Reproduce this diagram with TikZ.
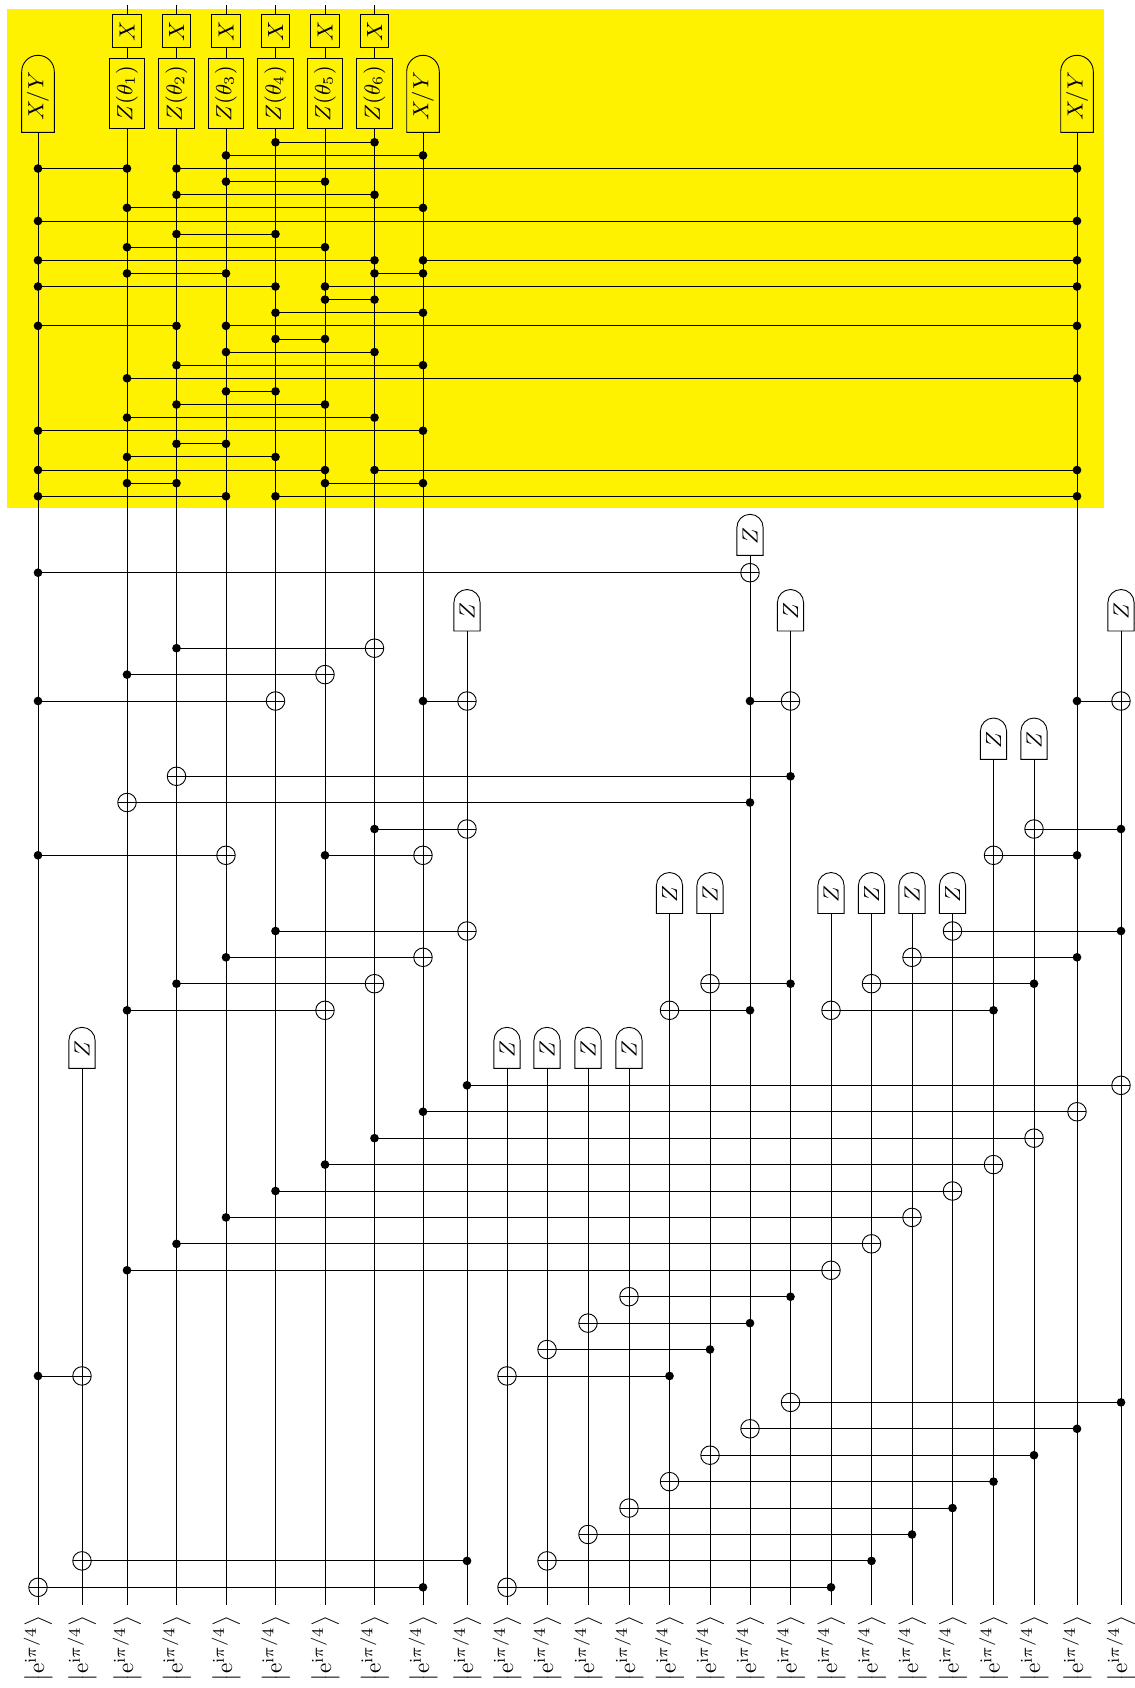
\documentclass[tikz,border=0pt]{standalone}
\usepackage{amsmath}
\definecolor{yel}{HTML}{FFF200}
\newcount\gid
\tikzset{
  x=0.41pt,y=-0.41pt,
  wire/.style={line width=0.37pt,black},
  ctrlnode/.style={circle,fill=black,inner sep=0pt,minimum size=3.55pt},
  targ/.style={circle,draw,line width=0.37pt,inner sep=0pt,minimum size=7.6pt,
    path picture={\draw[line width=0.37pt] (path picture bounding box.west) -- (path picture bounding box.east)
      (path picture bounding box.north) -- (path picture bounding box.south);}},
  xgate/.style={rectangle,draw,line width=0.37pt,fill=yel,inner sep=0pt,minimum width=11.7pt,minimum height=13.9pt,font=\fontsize{9}{11}\selectfont},
  zgate/.style={rectangle,draw,line width=0.37pt,fill=yel,inner sep=0pt,minimum width=14.4pt,minimum height=28.5pt,font=\fontsize{9}{11}\selectfont},
  lab/.style={inner sep=0pt},
  mtxt/.style={inner sep=0pt,font=\fontsize{9}{11}\selectfont},
}
\newcommand\czlink[3]{%
  \global\advance\gid by 1
  \node[ctrlnode] (a\the\gid) at (w#2 |- 0,#1) {};
  \node[ctrlnode] (b\the\gid) at (w#3 |- 0,#1) {};
  \draw[wire] (a\the\gid.center) -- (b\the\gid.center);}
\newcommand\cxlink[3]{%
  \global\advance\gid by 1
  \node[ctrlnode] (a\the\gid) at (w#2 |- 0,#1) {};
  \node[targ] (b\the\gid) at (w#3 |- 0,#1) {};
  \draw[wire] (a\the\gid.center) -- (b\the\gid.center);}
% wire index, top, bottom, half width, fill, label, label shift
\newcommand\meter[7]{%
  \draw[line width=0.37pt,fill=#5] ([xshift=-#4*0.41pt]w#1 |- 0,#3) -- ([xshift=-#4*0.41pt]w#1 |- 0,#2+#4) arc[start angle=180,end angle=0,radius=#4*0.41pt] -- ([xshift=#4*0.41pt]w#1 |- 0,#3) -- cycle;
  \node[mtxt] (m#1) at (w#1 |- 0,{(#2+#3)/2+#7}) {\rotatebox{90}{#6}};
  \coordinate (mb#1) at (w#1 |- 0,#3);
  \draw[wire] (mb#1) -- (e#1);}
\begin{document}
\begin{tikzpicture}
\useasboundingbox (0,0) rectangle (1134,1688);
\fill[yel] (7,9) rectangle (1104,508);
\foreach \n/\xx in {1/38,2/82,3/127,4/176.5,5/226,6/275.5,7/325,8/374.5,9/423,10/467,11/507,12/547,13/588,14/629,15/669.5,16/710,17/750,18/790.5,19/831,20/871.5,21/912,22/952.5,23/993.5,24/1034,25/1077,26/1121}{
  \coordinate (w\n) at (\xx,0);
  \coordinate (e\n) at (\xx,1605);
  \coordinate (t\n) at (\xx,5);
  \node[lab] (k\n) at (\xx,1648.5) {\rotatebox{90}{\scalebox{0.95}{$\left|\mathrm{e}^{\mathrm{i}\pi/4}\right\rangle$}}};
}
% X and Z(theta) gates with wires
\foreach \n/\q in {3/1,4/2,5/3,6/4,7/5,8/6}{
  \node[xgate] (x\n) at (w\n |- 0,31) {\rotatebox{90}{$X$}};
  \node[zgate] (z\n) at (w\n |- 0,93.7) {\rotatebox{90}{$Z(\theta_\q)$}};
  \draw[wire] (t\n) -- (x\n) (x\n) -- (z\n) (z\n) -- (e\n);
}
% measurements
\meter{1}{55.3}{132.3}{16.3}{yel}{$X/Y$}{2.5}
\meter{9}{55.3}{132.3}{16.3}{yel}{$X/Y$}{2.5}
\meter{25}{55.3}{132.3}{16.3}{yel}{$X/Y$}{2.5}
\meter{17}{514.3}{555.3}{13.1}{white}{$Z$}{1}
\foreach \n in {10,18,26}{\meter{\n}{589.5}{631}{13.1}{white}{$Z$}{1}}
\foreach \n in {23,24}{\meter{\n}{718}{759.3}{13.1}{white}{$Z$}{1}}
\foreach \n in {15,16,19,20,21,22}{\meter{\n}{872.5}{913.5}{13.1}{white}{$Z$}{1}}
\foreach \n in {2,11,12,13,14}{\meter{\n}{1027.3}{1068.3}{13.1}{white}{$Z$}{1}}
% CZ rows in the yellow region
\foreach \i/\a/\b in {0/6/8,1/5/9,2/1/3,2/4/25,3/5/7,4/4/8,5/3/9,6/1/25,7/4/6,8/3/7,9/1/8,9/9/25,10/3/5,10/8/9,11/1/6,11/7/25,12/7/8,13/6/9,14/1/4,14/5/25,15/6/7,16/5/8,17/4/9,18/3/25,19/5/6,20/4/7,21/3/8,22/1/9,23/4/5,24/3/6,25/1/7,25/8/25,26/3/4,26/7/9,27/1/5,27/6/25}{
  \pgfmathsetmacro\yy{142.3+13.11*\i}
  \czlink{\yy}{\a}{\b}
}
% CNOT rows on the regular lower grid
\foreach \k/\c/\t in {0/9/1,0/19/11,1/10/2,1/20/12,2/21/13,3/22/14,4/23/15,5/24/16,6/25/17,7/26/18,8/1/2,8/15/11,9/16/12,10/17/13,11/18/14,12/3/19,13/4/20,14/5/21,15/6/22,16/7/23,17/8/24,18/9/25,19/10/26}{
  \pgfmathsetmacro\yy{1587.3-26.42*\k}
  \cxlink{\yy}{\c}{\t}
}
% CNOT rows higher up
\foreach \yy/\c/\t in {1010.3/3/7,1010.3/17/15,1010.3/23/19,983.7/4/8,983.7/18/16,983.7/24/20,957.3/5/9,957.3/25/21,931/6/10,931/26/22,855.3/1/5,855.3/7/9,855.3/25/23,829/8/10,829/26/24,802.5/17/3,776.3/18/4,701/1/6,701/9/10,701/17/18,701/25/26,674.6/3/7,648.2/4/8,572.7/1/17}{
  \cxlink{\yy}{\c}{\t}
}
\end{tikzpicture}
\end{document}
